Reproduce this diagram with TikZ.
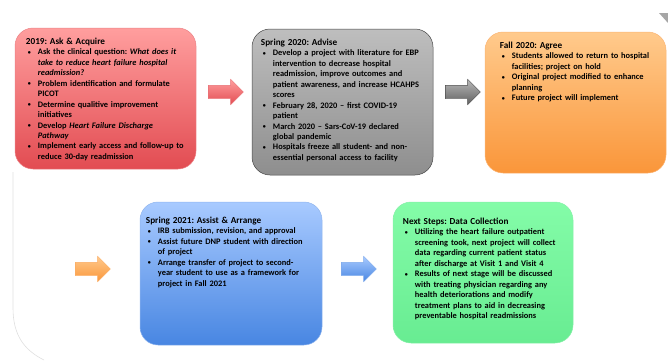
\documentclass[tikz,border=0pt]{standalone}
\usepackage{fontspec}
\setmainfont{Carlito}
\usetikzlibrary{shapes.arrows}

\definecolor{askTop}{RGB}{255,158,158}
\definecolor{askBot}{RGB}{226,76,82}
\definecolor{advTop}{RGB}{190,190,190}
\definecolor{advBot}{RGB}{142,142,142}
\definecolor{agrTop}{RGB}{255,202,140}
\definecolor{agrBot}{RGB}{250,150,58}
\definecolor{asaTop}{RGB}{168,202,255}
\definecolor{asaBot}{RGB}{72,134,226}
\definecolor{nxtTop}{RGB}{132,252,168}
\definecolor{nxtBot}{RGB}{104,236,146}

\newcommand{\bul}[1]{\par\hangindent=12pt\hangafter=1\noindent\hspace*{2pt}%
  \makebox[10pt][l]{\raisebox{0.4pt}{\fontsize{6}{6}\selectfont\textbullet}}#1}
\newcommand{\stagehead}[1]{{\fontsize{9.2}{10.5}\selectfont #1}}

\begin{document}
\begin{tikzpicture}[x=1pt,y=-1pt,
    stage/.style={rounded corners=18pt, line width=0.5pt},
    stagetxt/.style={anchor=north west, inner sep=0pt, text width=178pt, align=left,
      font=\fontsize{8.4}{10.45}\selectfont\bfseries\frenchspacing},
    blockarrow/.style={single arrow, inner xsep=0pt, inner ysep=6.5pt,
      single arrow head extend=6pt, minimum height=35pt, line width=0.4pt}]
  \useasboundingbox (0,0) rectangle (668,360);

  % faint page outline
  \draw[gray!25, line width=0.6pt] (13,172) -- (13,308) .. controls (13,335) and (24,350) .. (44,360);
  \fill[gray!70] (659,13) -- (668,13) -- (668,23) -- cycle;

  % top row
  \node[stage, draw=askBot!70!white, top color=askTop, bottom color=askBot,
    minimum width=181pt, minimum height=141pt] (ask) at (105.5,98.5) {};
  \node[stagetxt] (ask-txt) at ([shift={(11pt,-10pt)}]ask.north west) {%
    \stagehead{2019: Ask \& Acquire}
    \bul{Ask the clinical question: \textit{What does it}\newline\textit{take to reduce heart failure hospital}\newline\textit{readmission?}}
    \bul{Problem identification and formulate\newline PICOT}
    \bul{Determine qualitive improvement\newline initiatives}
    \bul{Develop \textit{Heart Failure Discharge}\newline\textit{Pathway}}
    \bul{Implement early access and follow-up to\newline reduce 30-day readmission}\par};

  \node[stage, draw=gray!55!black, top color=advTop, bottom color=advBot,
    minimum width=181pt, minimum height=146pt] (advise) at (342.5,102) {};
  \node[stagetxt] (advise-txt) at ([shift={(9pt,-10pt)}]advise.north west) {%
    \stagehead{Spring 2020: Advise}
    \bul{Develop a project with literature for EBP\newline intervention to decrease hospital\newline readmission, improve outcomes and\newline patient awareness, and increase HCAHPS\newline scores}
    \bul{February 28, 2020 -- first COVID-19\newline patient}
    \bul{March 2020 -- Sars-CoV-19 declared\newline global pandemic}
    \bul{Hospitals freeze all student- and non-\newline essential personal access to facility}\par};

  \node[stage, draw=agrBot!70!white, top color=agrTop, bottom color=agrBot,
    minimum width=181pt, minimum height=141pt] (agree) at (575.5,102.5) {};
  \node[stagetxt] (agree-txt) at ([shift={(15pt,-10pt)}]agree.north west) {%
    \stagehead{Fall 2020: Agree}
    \bul{Students allowed to return to hospital\newline facilities; project on hold}
    \bul{Original project modified to enhance\newline planning}
    \bul{Future project will implement}\par};

  % bottom row
  \node[stage, draw=asaBot!60!white, top color=asaTop, bottom color=asaBot,
    minimum width=182pt, minimum height=143pt] (assist) at (231,273.5) {};
  \node[stagetxt] (assist-txt) at ([shift={(6pt,-15pt)}]assist.north west) {%
    \stagehead{Spring 2021: Assist \& Arrange}
    \bul{IRB submission, revision, and approval}
    \bul{Assist future DNP student with direction\newline of project}
    \bul{Arrange transfer of project to second-\newline year student to use as a framework for\newline project in Fall 2021}\par};

  \node[stage, draw=nxtBot!80!white, top color=nxtTop, bottom color=nxtBot,
    minimum width=180pt, minimum height=141pt] (next) at (483,272.5) {};
  \node[stagetxt] (next-txt) at ([shift={(10pt,-16pt)}]next.north west) {%
    \stagehead{Next Steps: Data Collection}
    \bul{Utilizing the heart failure outpatient\newline screening took, next project will collect\newline data regarding current patient status\newline after discharge at Visit 1 and Visit 4}
    \bul{Results of next stage will be discussed\newline with treating physician regarding any\newline health deteriorations and modify\newline treatment plans to aid in decreasing\newline preventable hospital readmissions}\par};

  % block arrows between the stages
  \node[blockarrow, draw=askBot!80!white, top color=askTop, bottom color=askBot] (ask-adv) at (222.5,92) {};
  \node[blockarrow, draw=gray!60!black, top color=gray!55, bottom color=gray!75!black] (adv-agr) at (459.5,92) {};
  \node[blockarrow, draw=agrBot!80!white, top color=agrTop, bottom color=agrBot] (to-assist) at (89.5,269) {};
  \node[blockarrow, draw=asaBot!70!white, top color=asaTop, bottom color=asaBot] (asa-nxt) at (355.5,269) {};
\end{tikzpicture}
\end{document}
